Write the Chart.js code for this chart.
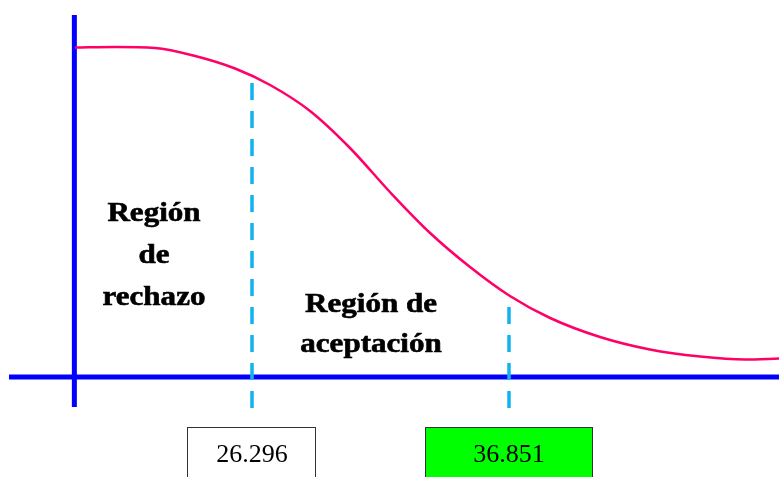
<!DOCTYPE html>
<html>
<head>
<meta charset="utf-8">
<script src="https://cdn.jsdelivr.net/npm/chart.js@4/dist/chart.umd.min.js"></script>
<style>
html, body { margin:0; padding:0; background:#fff; }
#wrap { width:779px; height:477px; }
</style>
</head>
<body>
<div id="wrap"><canvas id="myChart"></canvas></div>
<script>
// density curve: statistic value vs density
var curveX = [19.03, 20.67, 22.31, 23.96, 25.60, 27.04, 28.68, 30.32, 31.96, 33.61, 35.25, 36.89, 38.54, 40.59, 42.64, 44.70, 46.54, 47.94];
var curveY = [0.0659, 0.0660, 0.0658, 0.0642, 0.0617, 0.0584, 0.0532, 0.0458, 0.0370, 0.0288, 0.0220, 0.0162, 0.0118, 0.0080, 0.0055, 0.0041, 0.0035, 0.0037];

// critical values
var critValues = [26.296, 36.851];
var critLabels = ['26.296', '36.851'];
var critTops = [0.061, 0.0144];

var leftLabel = ['Región', 'de', 'rechazo'];
var rightLabel = ['Región de', 'aceptación'];

var xRange = [15.946, 47.94];
var yRange = [-0.02, 0.0754];
var yAxisAt = 19.0;

var points = [];
for (var i = 0; i < curveX.length; i++) {
	points.push({x: curveX[i], y: curveY[i]});
}

var axesPlugin = {
	id: 'axes',
	beforeDatasetsDraw: function(chart) {
		var ctx = chart.ctx;
		var sx = chart.scales.x, sy = chart.scales.y;
		ctx.save();
		ctx.strokeStyle = '#0000ff';
		ctx.lineWidth = 5;
		// horizontal axis
		ctx.beginPath();
		ctx.moveTo(sx.getPixelForValue(16.316), sy.getPixelForValue(0));
		ctx.lineTo(sx.getPixelForValue(xRange[1]), sy.getPixelForValue(0));
		ctx.stroke();
		// vertical axis
		ctx.beginPath();
		ctx.moveTo(sx.getPixelForValue(yAxisAt), sy.getPixelForValue(0.0724));
		ctx.lineTo(sx.getPixelForValue(yAxisAt), sy.getPixelForValue(-0.006));
		ctx.stroke();
		ctx.restore();
	},
	afterDatasetsDraw: function(chart) {
		var ctx = chart.ctx;
		var sx = chart.scales.x, sy = chart.scales.y;
		ctx.save();
		// dashed critical lines, drawn bottom-up so the last dash sits at the bottom
		ctx.strokeStyle = '#12b2ee';
		ctx.lineWidth = 3.5;
		ctx.setLineDash([17, 11]);
		for (var i = 0; i < critValues.length; i++) {
			var px = sx.getPixelForValue(critValues[i]);
			ctx.beginPath();
			ctx.moveTo(px, sy.getPixelForValue(-0.0062));
			ctx.lineTo(px, sy.getPixelForValue(critTops[i]));
			ctx.stroke();
		}
		ctx.setLineDash([]);

		// value boxes
		var boxW = [128, 167];
		var boxFill = ['#ffffff', '#00ff00'];
		for (var j = 0; j < critValues.length; j++) {
			var cx = sx.getPixelForValue(critValues[j]);
			var left = Math.round(cx - boxW[j] / 2) - 0.5;
			ctx.fillStyle = boxFill[j];
			ctx.fillRect(left, 427, boxW[j], 60);
			ctx.strokeStyle = '#333333';
			ctx.lineWidth = 1;
			ctx.strokeRect(left, 427.5, boxW[j], 60);
			ctx.fillStyle = '#000';
			ctx.font = '26px "Liberation Serif", "Times New Roman", serif';
			ctx.textAlign = 'center';
			ctx.textBaseline = 'alphabetic';
			ctx.fillText(critLabels[j], cx, 462);
		}

		// region labels
		ctx.font = 'bold 27px "Liberation Serif", "Times New Roman", serif';
		ctx.fillStyle = '#000';
		ctx.strokeStyle = '#000';
		ctx.lineWidth = 0.6;
		ctx.textAlign = 'center';
		var drawStretched = function(text, x, y) {
			ctx.save();
			ctx.translate(x, y);
			ctx.scale(1.15, 1);
			ctx.fillText(text, 0, 0);
			ctx.strokeText(text, 0, 0);
			ctx.restore();
		};
		var leftBase = [221, 263, 305];
		for (var k = 0; k < leftLabel.length; k++) drawStretched(leftLabel[k], 154, leftBase[k]);
		var rightBase = [312, 352];
		for (var m = 0; m < rightLabel.length; m++) drawStretched(rightLabel[m], 371, rightBase[m]);
		ctx.restore();
	}
};

var ctx = document.getElementById('myChart').getContext('2d');
var myChart = new Chart(ctx, {
	type: 'line',
	data: {
		datasets: [{
			data: points,
			borderColor: '#ff0066',
			borderWidth: 2.5,
			pointRadius: 0,
			fill: false,
			cubicInterpolationMode: 'monotone',
			clip: false
		}]
	},
	options: {
		responsive: true,
		maintainAspectRatio: false,
		animation: false,
		devicePixelRatio: 1,
		layout: { padding: 0 },
		plugins: { legend: { display: false }, tooltip: { enabled: false } },
		scales: {
			x: { type: 'linear', min: xRange[0], max: xRange[1], display: false },
			y: { type: 'linear', min: yRange[0], max: yRange[1], display: false }
		}
	},
	plugins: [axesPlugin]
});
</script>
</body>
</html>
